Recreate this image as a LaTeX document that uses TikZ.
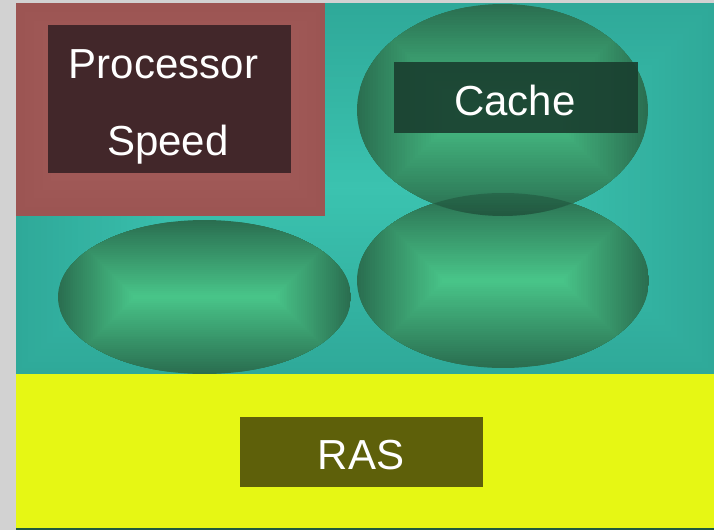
\documentclass[tikz,border=0pt]{standalone}
\usepackage{fontspec}
\setmainfont{Liberation Sans}
\definecolor{greybg}{HTML}{D2D2D2}
\definecolor{tealedge}{HTML}{2FA999}
\definecolor{tealmid}{HTML}{3BC3B0}
\definecolor{brownedge}{HTML}{9C5553}
\definecolor{brownmid}{HTML}{A86260}
\definecolor{procbox}{HTML}{42272A}
\definecolor{outerg}{HTML}{2A6E50}
\definecolor{innerg}{HTML}{49C68A}
\definecolor{cachebox}{HTML}{1A4030}
\definecolor{yellowbg}{HTML}{E6F714}
\definecolor{rasbox}{HTML}{5E600A}
\definecolor{bottomline}{HTML}{1E5A40}
\newcommand\boxshade[8]{% x1,y1,x2,y2,steps,inset max,inner,outer
  \foreach \i in {0,...,#5}{%
    \pgfmathsetmacro\kk{\i*#6/#5}%
    \pgfmathsetmacro\pp{\i*100/#5}%
    \fill[#7!\pp!#8] ({#1+\kk},{#2+\kk}) rectangle ({#3-\kk},{#4-\kk});
  }}
\newcommand\shadedellipse[4]{% cx,cy,rx,ry
  \begin{scope}
    \clip (#1,#2) ellipse [x radius=#3, y radius=#4];
    \boxshade{#1-#3}{#2-#4}{#1+#3}{#2+#4}{40}{#4}{innerg}{outerg}
  \end{scope}}
\tikzset{
  label/.style={text=white, font=\fontsize{42}{50}\selectfont, anchor=base, inner sep=0pt}
}
\begin{document}
\begin{tikzpicture}[x=1pt,y=-1pt]
\useasboundingbox (0,0) rectangle (714,530);
\fill[greybg] (0,0) rectangle (714,530);
% teal region
\boxshade{16}{3}{714}{374}{30}{185}{tealmid}{tealedge}
% yellow region
\fill[yellowbg] (16,374) rectangle (714,528);
\fill[bottomline] (16,528) rectangle (714,530);
% brown region
\boxshade{16}{3}{325}{216}{12}{106}{brownmid}{brownedge}
\fill[procbox] (48,25) rectangle (291,173);
\node[label] (proc) at (163.5,78) {Processor};
\node[label] (speed) at (168,155) {Speed};
% ellipses
\shadedellipse{204.5}{297}{146.5}{77}
\shadedellipse{503}{280.5}{146}{87.5}
\shadedellipse{502.5}{110}{145.5}{106}
% overlap lens
\begin{scope}
  \clip (503,280.5) ellipse [x radius=146, y radius=87.5];
  \fill[black,opacity=0.18] (502.5,110) ellipse [x radius=145.5, y radius=106];
\end{scope}
% cache box
\fill[cachebox,opacity=0.92] (394,62) rectangle (638,133);
\node[label] (cache) at (515,115) {Cache};
% RAS box
\fill[rasbox] (240,417) rectangle (483,487);
\node[label] (ras) at (361,469) {RAS};
\end{tikzpicture}
\end{document}
